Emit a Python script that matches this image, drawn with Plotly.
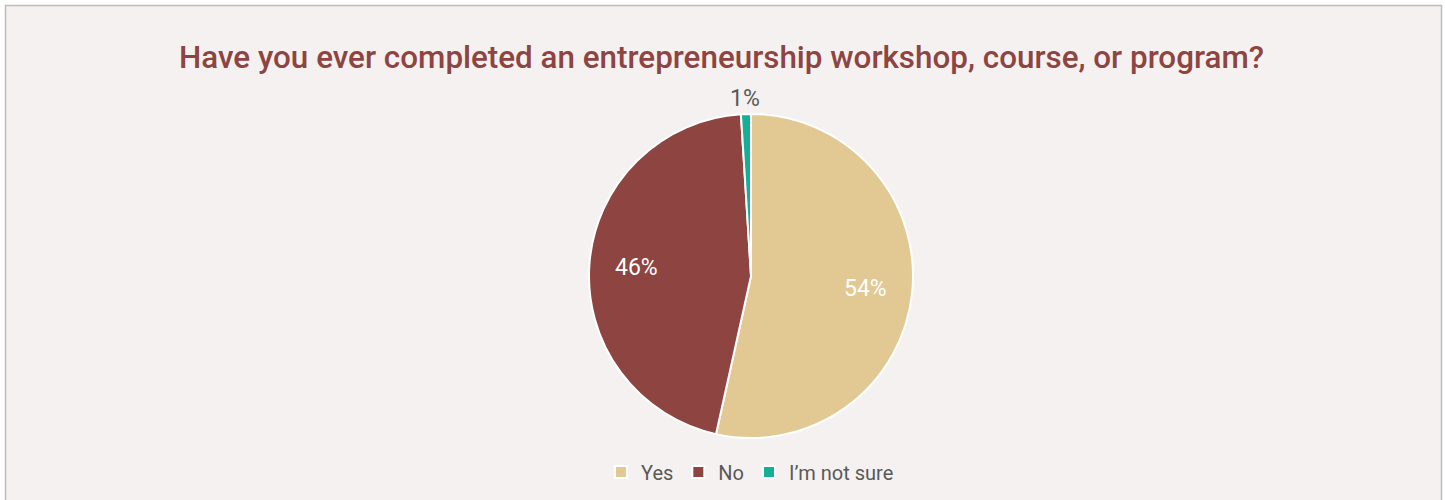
import math
import plotly.graph_objects as go

# Survey answers and their shares (percent)
answers = ["Yes", "No", "I\u2019m not sure"]
shares = [54, 46, 1]
slice_colors = ["#E2C892", "#8E4440", "#14B096"]
label_colors = ["#FFFFFF", "#FFFFFF", "#595959"]
label_radius = [0.71, 0.71, 1.095]  # fraction of pie radius

W, H = 1445, 500
M_L, M_R, M_T, M_B = 60, 3, 114, 62
plot_w = W - M_L - M_R
plot_h = H - M_T - M_B


def px_x(p):
    return (p - M_L) / plot_w


def px_y(p):
    return (H - M_B - p) / plot_h


fig = go.Figure(
    go.Pie(
        labels=answers,
        values=shares,
        sort=False,
        direction="clockwise",
        rotation=0,
        marker=dict(colors=slice_colors, line=dict(color="#FFFFFF", width=2)),
        textinfo="none",
        hoverinfo="label+value",
    )
)

# Percentage labels, placed at the middle angle of each slice
cx = M_L + plot_w / 2
cy = M_T + plot_h / 2
radius = min(plot_w, plot_h) / 2
total = sum(shares)
start = 0.0
annotations = []
for share, color, rf in zip(shares, label_colors, label_radius):
    sweep = 360.0 * share / total
    mid = math.radians(start + sweep / 2)
    start += sweep
    lx = cx + rf * radius * math.sin(mid)
    ly = cy - rf * radius * math.cos(mid)
    annotations.append(
        dict(
            x=px_x(lx),
            y=px_y(ly),
            xref="paper",
            yref="paper",
            text=f"{share}%",
            showarrow=False,
            xanchor="center",
            yanchor="middle",
            font=dict(family="Roboto", size=23, color=color),
        )
    )

fig.update_layout(
    width=W,
    height=H,
    margin=dict(l=M_L, r=M_R, t=M_T, b=M_B, autoexpand=False),
    paper_bgcolor="#FFFFFF",
    title=dict(
        text="Have you ever completed an entrepreneurship workshop, course, or program?",
        font=dict(family="Roboto", size=31.4, color="#8E4440", weight=500),
        x=721.5 / W,
        xanchor="center",
        y=1 - 57 / H,
        yanchor="middle",
    ),
    annotations=annotations,
    showlegend=True,
    legend=dict(
        orientation="h",
        x=px_x(750),
        xanchor="center",
        y=px_y(472),
        yanchor="middle",
        font=dict(family="Roboto", size=20, color="#595959"),
        bgcolor="rgba(0,0,0,0)",
    ),
    shapes=[
        dict(
            type="rect",
            xref="paper",
            yref="paper",
            x0=px_x(5.5),
            x1=px_x(1441.5),
            y0=px_y(510),
            y1=px_y(5.5),
            fillcolor="#F5F1F0",
            line=dict(color="#BDBDBD", width=1.5),
            layer="below",
        )
    ],
)

fig.write_html("out.html")
